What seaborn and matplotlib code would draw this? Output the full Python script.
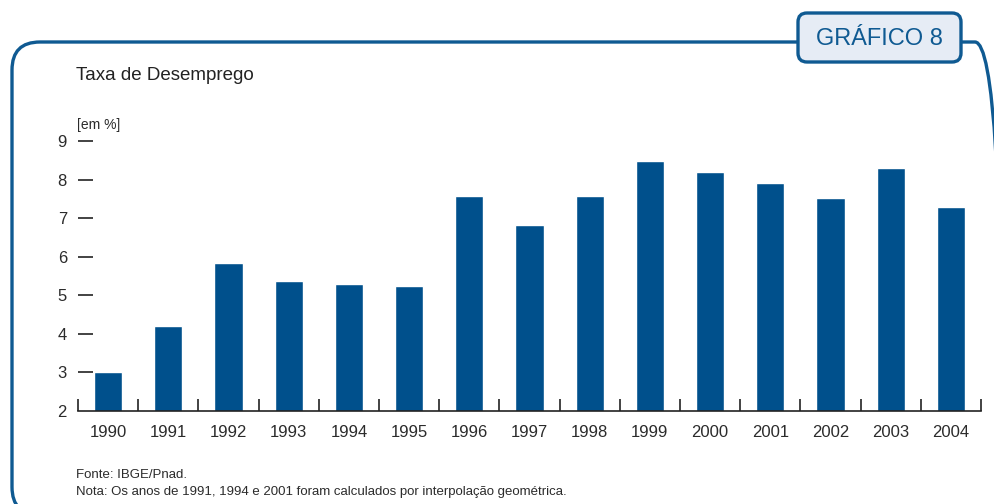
import pandas as pd
import matplotlib.pyplot as plt
import seaborn as sns
from matplotlib.patches import FancyBboxPatch

# Dados do gráfico
anos = ['1990', '1991', '1992', '1993', '1994', '1995', '1996', '1997',
        '1998', '1999', '2000', '2001', '2002', '2003', '2004']
taxa = [3.01, 4.20, 5.84, 5.37, 5.29, 5.24, 7.57, 6.82,
        7.57, 8.48, 8.20, 7.91, 7.52, 8.30, 7.29]
y_ticks = [2, 3, 4, 5, 6, 7, 8, 9]

azul = '#00508c'
moldura = '#0f5a92'
texto = '#2b2b2b'

sns.set_theme(style='white')
plt.rcParams['font.family'] = ['Liberation Sans Narrow', 'Liberation Sans', 'DejaVu Sans']

W, H = 995, 504
fig = plt.figure(figsize=(W / 100, H / 100), dpi=100)


def px(x, y):
    return x / W, 1 - y / H


# Moldura arredondada
frame = FancyBboxPatch((12, -11), 991, 473, boxstyle='round,pad=0,rounding_size=28',
                       transform=None, fill=False, edgecolor=moldura, linewidth=2.4)
fig.patches.append(frame)

# Caixa "GRÁFICO 8"
badge = FancyBboxPatch((798, H - 62), 163, 49, boxstyle='round,pad=0,rounding_size=9',
                       transform=None, facecolor='#e6ecf5', edgecolor=moldura,
                       linewidth=2.4, zorder=5)
fig.patches.append(badge)
fig.text(*px(879, 39), 'GRÁFICO 8', ha='center', va='center', fontsize=17,
         color=moldura, zorder=6)

# Eixos
l, b = px(78, 411)
r, t = px(981, 141)
ax = fig.add_axes([l, b, r - l, t - b])
df = pd.DataFrame({'ano': anos, 'taxa': taxa})
sns.barplot(data=df, x='ano', y='taxa', color=azul, saturation=1, width=0.47, ax=ax)

ax.set_ylim(2, 9)
ax.set_xlim(-0.5, len(anos) - 0.5)
for s in ['top', 'right', 'left']:
    ax.spines[s].set_visible(False)
ax.spines['bottom'].set_color('#222222')
ax.spines['bottom'].set_linewidth(1.2)

ax.set_yticks(y_ticks)
ax.set_yticklabels([str(v) for v in y_ticks], fontsize=12, color=texto)
ax.tick_params(axis='y', left=True, direction='in', length=11, width=1.2,
               color='#222222', pad=8)
ax.yaxis.get_major_ticks()[0].tick1line.set_visible(False)

ax.set_xticks(range(len(anos)))
ax.set_xticklabels(anos, fontsize=12, color=texto)
ax.tick_params(axis='x', length=0, pad=10)
ax.set_xticks([i - 0.5 for i in range(len(anos) + 1)], minor=True)
ax.tick_params(axis='x', which='minor', direction='in', length=9, width=1.2,
               color='#222222', bottom=True)
ax.set_xlabel('')
ax.set_ylabel('')

fig.text(*px(76, 75), 'Taxa de Desemprego', ha='left', va='center', fontsize=13.5, color='#222222')
fig.text(*px(77, 125), '[em %]', ha='left', va='center', fontsize=10, color=texto)
fig.text(*px(76, 475), 'Fonte: IBGE/Pnad.', ha='left', va='center', fontsize=9.5, color=texto)
fig.text(*px(76, 492), 'Nota: Os anos de 1991, 1994 e 2001 foram calculados por interpolação geométrica.',
         ha='left', va='center', fontsize=9.5, color=texto)

fig.savefig('out.png', dpi=100)
